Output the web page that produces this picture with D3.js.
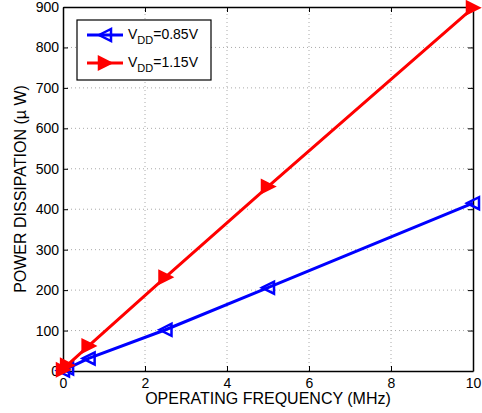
<!DOCTYPE html>
<html>
<head>
<meta charset="utf-8">
<script src="https://cdn.jsdelivr.net/npm/d3@7"></script>
<style>
  body { margin: 0; background: #fff; }
  text { font-family: "Liberation Sans", Arial, sans-serif; }
</style>
</head>
<body>
<div id="chart"></div>
<script>
// Power dissipation vs operating frequency
const freq = [0, 0.1, 0.625, 2.5, 5, 10];
const powerLow = [1, 6, 31, 102, 206, 415];   // VDD = 0.85V
const powerHigh = [3, 14, 62, 232, 456, 898]; // VDD = 1.15V
const xTicks = [0, 2, 4, 6, 8, 10];
const yTicks = [0, 100, 200, 300, 400, 500, 600, 700, 800, 900];

const width = 482, height = 413;
const margin = {top: 7, right: 9, bottom: 42, left: 63};

const svg = d3.select("#chart").append("svg")
    .attr("width", width)
    .attr("height", height);

const x = d3.scaleLinear().domain([0, 10]).range([margin.left, width - margin.right]);
const y = d3.scaleLinear().domain([0, 900]).range([height - margin.bottom, margin.top]);

// Dotted grid
svg.append("g").selectAll("line")
    .data(xTicks.slice(1, -1))
    .join("line")
    .attr("x1", d => x(d)).attr("x2", d => x(d))
    .attr("y1", y(0)).attr("y2", y(900))
    .attr("stroke", "#aaa").attr("stroke-dasharray", "1,3");
svg.append("g").selectAll("line")
    .data(yTicks.slice(1, -1))
    .join("line")
    .attr("x1", x(0)).attr("x2", x(10))
    .attr("y1", d => y(d)).attr("y2", d => y(d))
    .attr("stroke", "#aaa").attr("stroke-dasharray", "1,3");

// Axes (ticks inside, box style)
const fontSize = 14;
const xAxis = svg.append("g")
    .attr("transform", `translate(0,${y(0)})`)
    .call(d3.axisBottom(x).tickValues(xTicks).tickSizeInner(-5).tickSizeOuter(0).tickPadding(7));
const yAxis = svg.append("g")
    .attr("transform", `translate(${x(0)},0)`)
    .call(d3.axisLeft(y).tickValues(yTicks).tickSizeInner(-5).tickSizeOuter(0).tickPadding(4));
const xTop = svg.append("g")
    .attr("transform", `translate(0,${y(900)})`)
    .call(d3.axisTop(x).tickValues(xTicks).tickSizeInner(-5).tickSizeOuter(0).tickFormat(""));
const yRight = svg.append("g")
    .attr("transform", `translate(${x(10)},0)`)
    .call(d3.axisRight(y).tickValues(yTicks).tickSizeInner(-5).tickSizeOuter(0).tickFormat(""));

[xAxis, yAxis, xTop, yRight].forEach(g => {
    g.select(".domain").attr("stroke", "#000").attr("stroke-width", 1.5);
    g.selectAll(".tick line").attr("stroke", "#000");
    g.selectAll("text")
        .attr("fill", "#000")
        .style("font-size", fontSize + "px")
        .style("font-family", "'Liberation Sans', Arial, sans-serif");
});

// Axis titles
svg.append("text")
    .attr("x", (x(0) + x(10)) / 2)
    .attr("y", height - 9)
    .attr("text-anchor", "middle")
    .style("font-size", "16px")
    .text("OPERATING FREQUENCY (MHz)");
svg.append("text")
    .attr("transform", `translate(26,${(y(0) + y(900)) / 2}) rotate(-90)`)
    .attr("text-anchor", "middle")
    .style("font-size", "16px")
    .text("POWER DISSIPATION (\u00b5 W)");

// Lines and markers
const line = d3.line().x(d => x(d[0])).y(d => y(d[1]));
const triLeft = "M-6,0L6,-6L6,6Z";
const triRight = "M6,0L-6,-6L-6,6Z";

const series = [
    {name: "0.85V", values: powerLow, color: "#0000ff", marker: triLeft, fill: "none"},
    {name: "1.15V", values: powerHigh, color: "#ff0000", marker: triRight, fill: "#ff0000"}
];

series.forEach(s => {
    const pts = freq.map((f, i) => [f, s.values[i]]);
    const g = svg.append("g");
    g.selectAll("path.mk")
        .data(pts)
        .join("path")
        .attr("class", "mk")
        .attr("d", s.marker)
        .attr("transform", d => `translate(${x(d[0])},${y(d[1])})`)
        .attr("fill", s.fill)
        .attr("stroke", s.color)
        .attr("stroke-width", 2.5);
    g.append("path")
        .datum(pts)
        .attr("d", line)
        .attr("fill", "none")
        .attr("stroke", s.color)
        .attr("stroke-width", 3);
});

// Legend
const legend = svg.append("g");
legend.append("rect")
    .attr("x", 77).attr("y", 20)
    .attr("width", 134).attr("height", 60)
    .attr("fill", "#fff").attr("stroke", "#000").attr("stroke-width", 1.2);

series.forEach((s, i) => {
    const ly = 35 + i * 28;
    legend.append("line")
        .attr("x1", 87).attr("x2", 123)
        .attr("y1", ly).attr("y2", ly)
        .attr("stroke", s.color).attr("stroke-width", 3);
    legend.append("path")
        .attr("d", s.marker)
        .attr("transform", `translate(105,${ly})`)
        .attr("fill", s.fill)
        .attr("stroke", s.color)
        .attr("stroke-width", 2.5);
    const t = legend.append("text")
        .attr("x", 128).attr("y", ly + 4)
        .style("font-size", "14px");
    t.append("tspan").text("V");
    t.append("tspan").attr("dy", 5).style("font-size", "11px").text("DD");
    t.append("tspan").attr("dy", -5).text("=" + s.name);
});
</script>
</body>
</html>
